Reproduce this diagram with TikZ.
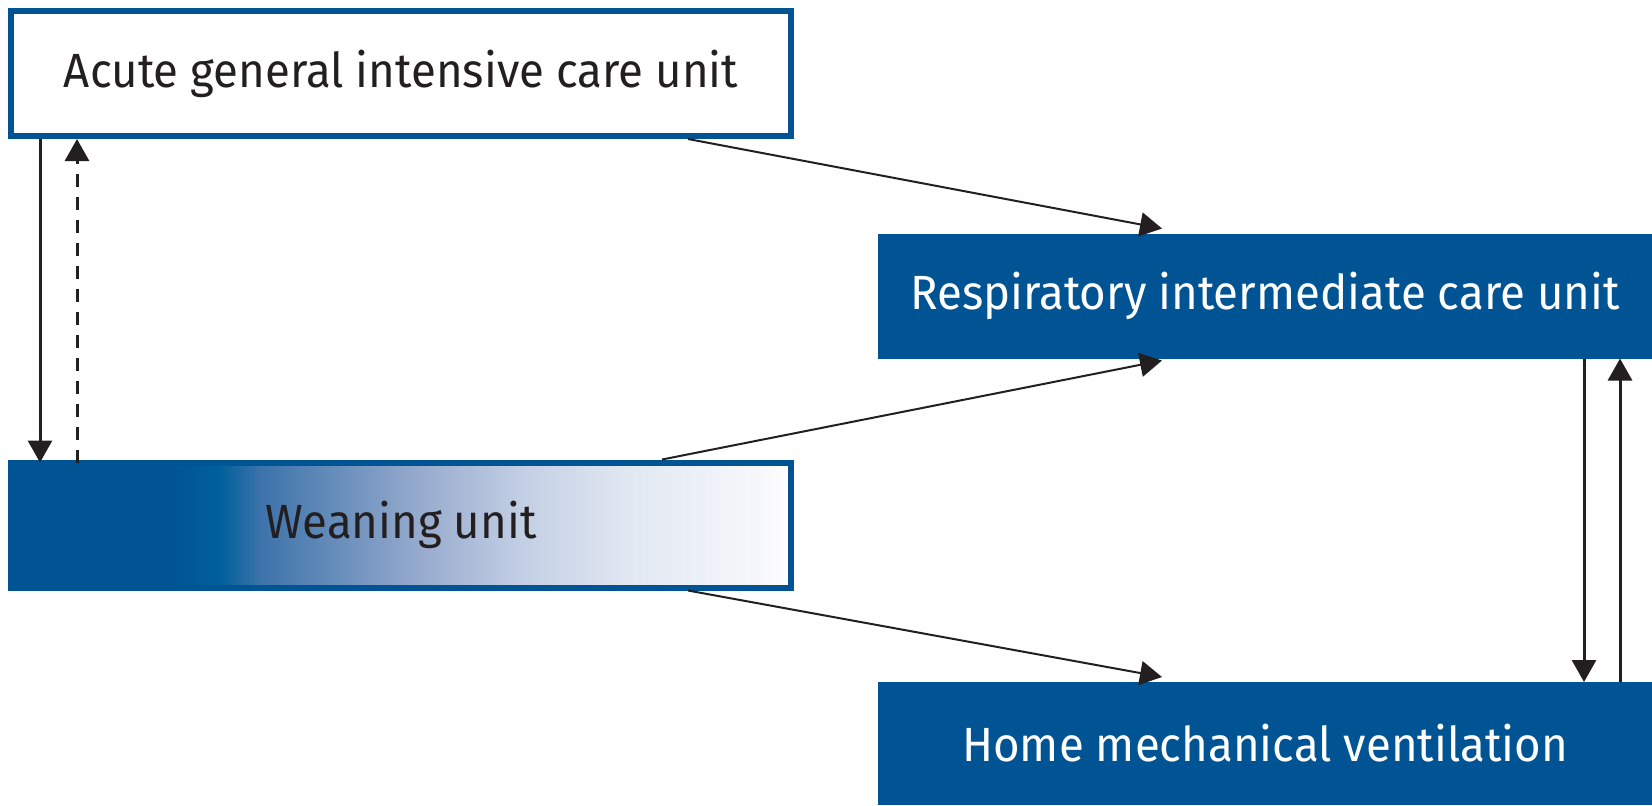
\documentclass[tikz,border=0pt]{standalone}
\usepackage{fontspec}
\setmainfont[FakeStretch=0.95]{Fira Sans}
\usetikzlibrary{arrows.meta}

\definecolor{unitblue}{RGB}{0,84,148}
\definecolor{fadeA}{RGB}{0,96,155}
\definecolor{fadeB}{RGB}{60,115,170}
\definecolor{fadeC}{RGB}{150,170,205}
\definecolor{fadeD}{RGB}{195,207,228}
\definecolor{fadeE}{RGB}{225,232,242}
\definecolor{fadeF}{RGB}{246,247,251}
\definecolor{inkdark}{RGB}{35,31,32}

% shading of the weaning box, 25bp..75bp spans the box
\pgfdeclarehorizontalshading{weanfade}{100bp}{color(0bp)=(unitblue); color(35.4bp)=(unitblue);
  color(38.4bp)=(fadeA); color(41bp)=(fadeB); color(51.1bp)=(fadeC); color(57.8bp)=(fadeD);
  color(64.6bp)=(fadeE); color(72.9bp)=(fadeF); color(75bp)=(white); color(100bp)=(white)}

\begin{document}
\begin{tikzpicture}[
        % Define styles
        x=0.5pt, y=-0.5pt,
        unitbox/.style={rectangle, inner sep=0pt, outer sep=0pt, minimum width=390pt,
          minimum height=62.5pt, font=\fontsize{24}{28}\selectfont},
        framebox/.style={unitbox, draw=unitblue, line width=3pt, fill=white, text=inkdark},
        fadebox/.style={framebox, shading=weanfade},
        solidbox/.style={unitbox, fill=unitblue, text=white, minimum width=387pt},
        link/.style={-{Triangle[length=11pt, width=12pt]}, draw=inkdark, line width=1.5pt},
        slant/.style={link, line width=1pt},
        backlink/.style={link, dash pattern=on 6.5pt off 5pt}
    ]

        \useasboundingbox (0,0) rectangle (1652,805);

        % --- Units ---
        \node[framebox] (acute) at (401,73.5) {Acute general intensive care unit};
        \node[solidbox] (resp) at (1265,296) {Respiratory intermediate care unit};
        \node[fadebox] (wean) at (401,525) {Weaning unit};
        \node[solidbox, minimum height=61.5pt] (home) at (1265,743.5) {Home mechanical ventilation};

        % --- Transfers ---
        % Acute <-> weaning
        \draw[link] ([xshift=14.5pt, yshift=-1.5pt]acute.south west) -- ([xshift=14.5pt]wean.north west);
        \draw[backlink] ([xshift=33pt]wean.north west) -- ([xshift=33pt, yshift=-1.5pt]acute.south west);

        % To the respiratory unit and home
        \draw[slant] ([xshift=-51.5pt, yshift=-1.5pt]acute.south east) -- ([xshift=142pt, yshift=2.5pt]resp.north west);
        \draw[slant] ([xshift=-64.5pt, yshift=1.5pt]wean.north east) -- ([xshift=142pt, yshift=-1pt]resp.south west);
        \draw[slant] ([xshift=-51.5pt, yshift=-1.5pt]wean.south east) -- ([xshift=142pt, yshift=2.5pt]home.north west);

        % Respiratory <-> home
        \draw[link] ([xshift=-34pt]resp.south east) -- ([xshift=-34pt]home.north east);
        \draw[link] ([xshift=-16pt]home.north east) -- ([xshift=-16pt]resp.south east);

    \end{tikzpicture}
\end{document}
